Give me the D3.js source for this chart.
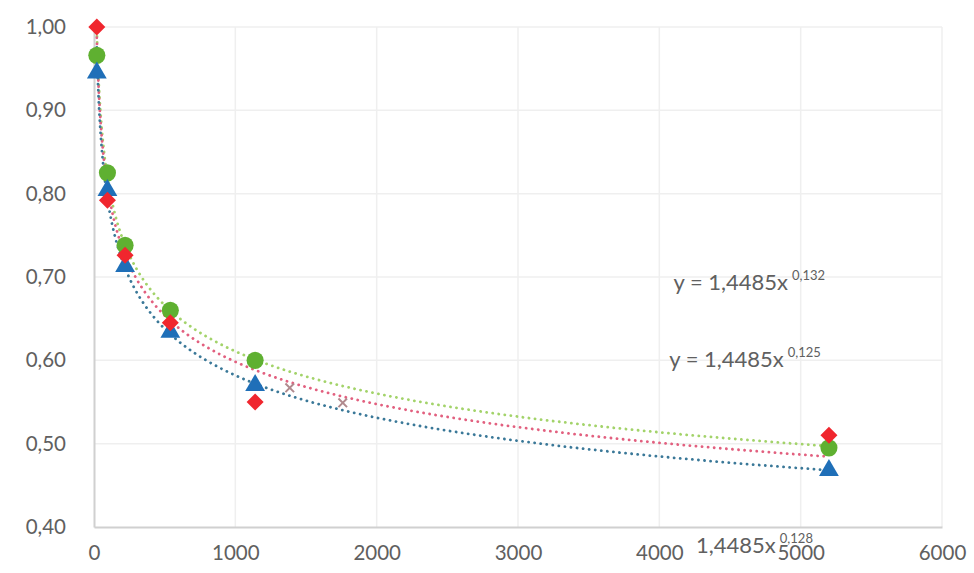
<!DOCTYPE html>
<html><head><meta charset="utf-8">
<script src="https://cdn.jsdelivr.net/npm/d3@7/dist/d3.min.js"></script>
<style>body{margin:0;background:#fff}svg{display:block}</style>
</head><body>
<svg id="c" width="974" height="573"></svg>
<script>
const xValues = [20, 95, 220, 540, 1140, 5200];
const greenValues = [0.966, 0.825, 0.738, 0.660, 0.600, 0.495];
const redValues = [1.000, 0.792, 0.726, 0.645, 0.550, 0.510];
const blueValues = [0.945, 0.804, 0.713, 0.634, 0.570, 0.468];
const grayX = [1385, 1760];
const grayValues = [0.567, 0.549];
const trendA = 1.4485;
const trendExp = {green: -0.125, red: -0.128, blue: -0.132};
const xTicks = [0, 1000, 2000, 3000, 4000, 5000, 6000];
const yTicks = [0.40, 0.50, 0.60, 0.70, 0.80, 0.90, 1.00];
const eqLabels = [
  {pre: "y = 1,4485x", sup: "0,132", x: 4100, y: 0.685},
  {pre: "y = 1,4485x", sup: "0,125", x: 4070, y: 0.592},
  {pre: "1,4485x", sup: "0,128", x: 4260, y: 0.369}
];

const svg = d3.select("#c");
const x = d3.scaleLinear().domain([0, 6000]).range([94, 942]);
const y = d3.scaleLinear().domain([0.40, 1.00]).range([527, 27]);
const font = "Lato, 'Open Sans', sans-serif";

// gridlines
svg.append("g").selectAll("line").data(yTicks.slice(1)).join("line")
  .attr("x1", x(0)).attr("x2", x(6000)).attr("y1", d => y(d)).attr("y2", d => y(d))
  .attr("stroke", "#efefef").attr("stroke-width", 1.5);
svg.append("g").selectAll("line").data(xTicks.slice(1)).join("line")
  .attr("x1", d => x(d)).attr("x2", d => x(d)).attr("y1", y(1.0)).attr("y2", y(0.4))
  .attr("stroke", "#efefef").attr("stroke-width", 1.5);

// axes
const xAxis = d3.axisBottom(x).tickValues(xTicks).tickSize(0).tickPadding(18).tickFormat(d3.format("d"));
const gx = svg.append("g").attr("transform", `translate(0,${y(0.4)})`).call(xAxis);
gx.select(".domain").attr("stroke", "#d0d0d0").attr("stroke-width", 2);
gx.selectAll("text").attr("font-family", font).attr("font-size", 20.5).attr("fill", "#606060");

const yAxis = d3.axisLeft(y).tickValues(yTicks).tickSize(0).tickPadding(28)
  .tickFormat(d => d3.format(".2f")(d).replace(".", ","));
const gy = svg.append("g").attr("transform", `translate(${x(0)},0)`).call(yAxis);
gy.select(".domain").attr("stroke", "#d0d0d0").attr("stroke-width", 2);
gy.selectAll("text").attr("font-family", font).attr("font-size", 20.5).attr("fill", "#606060");

// trendlines
const xs = d3.range(0, 201).map(i => xValues[0] * Math.pow(xValues[xValues.length-1] / xValues[0], i / 200));
const line = d3.line().x(d => x(d[0])).y(d => y(d[1]));
const trendColors = {green: "#a3d36a", red: "#e2607f", blue: "#3a7898"};
["green", "red", "blue"].forEach(k => {
  svg.append("path").datum(xs.map(v => [v, trendA * Math.pow(v, trendExp[k])]))
    .attr("d", line).attr("fill", "none").attr("stroke", trendColors[k])
    .attr("stroke-width", 2.8).attr("stroke-dasharray", "0.1,6").attr("stroke-linecap", "round");
});

// gray cross markers
svg.append("g").selectAll("path").data(grayX.map((v, i) => [v, grayValues[i]])).join("path")
  .attr("d", d3.symbol(d3.symbolX, 50)).attr("transform", d => `translate(${x(d[0])},${y(d[1])})`)
  .attr("fill", "none").attr("stroke", "#b08a8e").attr("stroke-width", 2);

// markers
const pts = (vals) => xValues.map((v, i) => [v, vals[i]]);
svg.append("g").selectAll("path").data(pts(greenValues)).join("path")
  .attr("d", d3.symbol(d3.symbolCircle, 230)).attr("transform", d => `translate(${x(d[0])},${y(d[1])})`)
  .attr("fill", "#5fb031");
svg.append("g").selectAll("path").data(pts(blueValues)).join("path")
  .attr("d", d3.symbol(d3.symbolTriangle, 170)).attr("transform", d => `translate(${x(d[0])},${y(d[1])})`)
  .attr("fill", "#1f6fb8");
svg.append("g").selectAll("path").data(pts(redValues)).join("path")
  .attr("d", d3.symbol(d3.symbolSquare, 145)).attr("transform", d => `translate(${x(d[0])},${y(d[1])}) rotate(45)`)
  .attr("fill", "#f0262e");

// equation labels
eqLabels.forEach(l => {
  const t = svg.append("text").attr("x", x(l.x)).attr("y", y(l.y))
    .attr("font-family", font).attr("font-size", 22).attr("fill", "#606060");
  t.append("tspan").text(l.pre);
  t.append("tspan").attr("dx", 4).attr("dy", -10).attr("font-size", 13).text(l.sup);
});
</script>
</body></html>
